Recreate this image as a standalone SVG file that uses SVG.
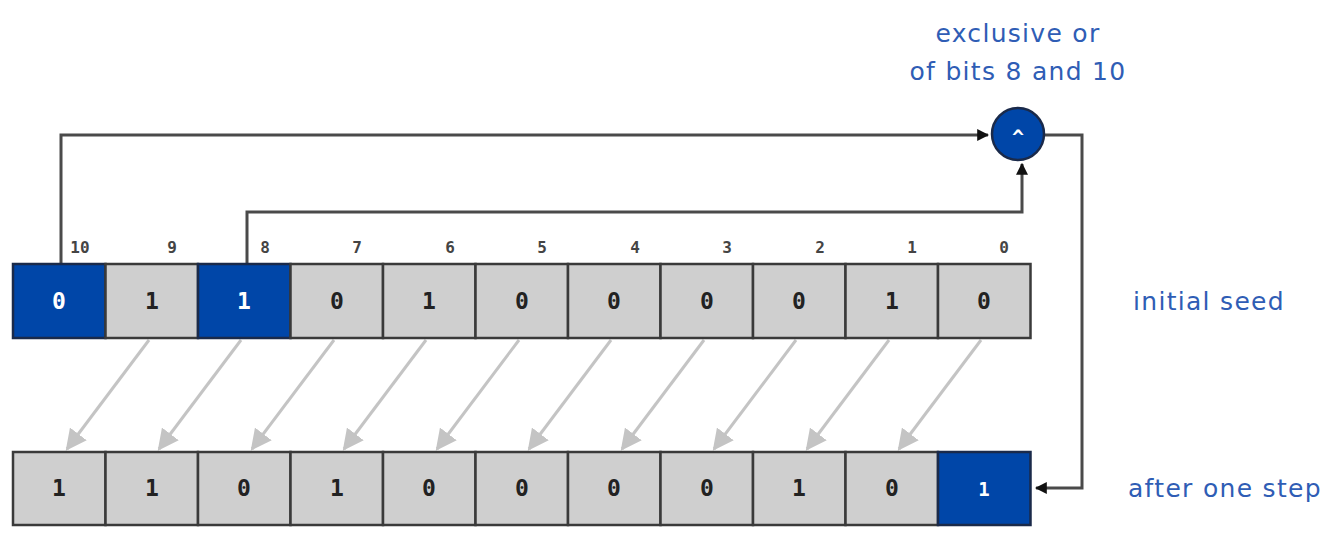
<svg xmlns="http://www.w3.org/2000/svg" width="1333" height="533" viewBox="0 0 1333 533">
<style>
.cell{fill:#cfcfcf;stroke:#3a3a3a;stroke-width:2.5}
.blue{fill:#0046a8;stroke:#1a2a4a;stroke-width:2.5}
.val{font-family:"DejaVu Sans Mono","Liberation Mono",monospace;font-weight:bold;font-size:23px;text-anchor:middle;fill:#222}
.valw{font-family:"DejaVu Sans Mono","Liberation Mono",monospace;font-weight:bold;font-size:23px;text-anchor:middle;fill:#fff}
.idx{font-family:"DejaVu Sans Mono","Liberation Mono",monospace;font-weight:bold;font-size:16px;text-anchor:middle;fill:#444}
.lbl{font-family:"DejaVu Sans","Open Sans",sans-serif;font-size:25px;letter-spacing:1.3px;fill:#2f5db5}
.wire{fill:none;stroke:#4a4a4a;stroke-width:3}
.shift{stroke:#c4c4c4;stroke-width:3}
</style>
<defs>
<marker id="ah" viewBox="0 0 10 10" refX="9" refY="5" markerWidth="4" markerHeight="4" orient="auto" markerUnits="strokeWidth">
<path d="M0,0 L10,5 L0,10 z" fill="#111"/>
</marker>
<marker id="gh" viewBox="0 0 10 10" refX="9" refY="5" markerWidth="7" markerHeight="7" orient="auto" markerUnits="strokeWidth">
<path d="M0,0 L10,5 L0,10 z" fill="#c4c4c4"/>
</marker>
</defs>
<g id="connectors">
<path class="wire" d="M61,264 V135 H988" marker-end="url(#ah)"/>
<path class="wire" d="M247,264 V212 H1022 V164" marker-end="url(#ah)"/>
<path class="wire" d="M1045,135 H1082 V488 H1036" marker-end="url(#ah)"/>
<g class="shift">
<line x1="149" y1="340" x2="67" y2="449" marker-end="url(#gh)"/>
<line x1="241" y1="340" x2="159" y2="449" marker-end="url(#gh)"/>
<line x1="334" y1="340" x2="252" y2="449" marker-end="url(#gh)"/>
<line x1="426" y1="340" x2="344" y2="449" marker-end="url(#gh)"/>
<line x1="519" y1="340" x2="437" y2="449" marker-end="url(#gh)"/>
<line x1="611" y1="340" x2="529" y2="449" marker-end="url(#gh)"/>
<line x1="704" y1="340" x2="622" y2="449" marker-end="url(#gh)"/>
<line x1="796" y1="340" x2="714" y2="449" marker-end="url(#gh)"/>
<line x1="889" y1="340" x2="807" y2="449" marker-end="url(#gh)"/>
<line x1="981" y1="340" x2="899" y2="449" marker-end="url(#gh)"/>
</g>
</g>
<g id="xor">
<circle cx="1018" cy="134" r="26" fill="#0046a8" stroke="#1a2a4a" stroke-width="2.5"/>
<text x="1018" y="144" class="valw" style="font-size:20px">^</text>
<text x="1018" y="42" class="lbl" text-anchor="middle">exclusive or</text>
<text x="1018" y="80" class="lbl" text-anchor="middle">of bits 8 and 10</text>
</g>
<g id="seed">
<rect class="blue" x="13" y="264" width="92.5" height="74"/>
<rect class="cell" x="105.5" y="264" width="92.5" height="74"/>
<rect class="blue" x="198" y="264" width="92.5" height="74"/>
<rect class="cell" x="290.5" y="264" width="92.5" height="74"/>
<rect class="cell" x="383" y="264" width="92.5" height="74"/>
<rect class="cell" x="475.5" y="264" width="92.5" height="74"/>
<rect class="cell" x="568" y="264" width="92.5" height="74"/>
<rect class="cell" x="660.5" y="264" width="92.5" height="74"/>
<rect class="cell" x="753" y="264" width="92.5" height="74"/>
<rect class="cell" x="845.5" y="264" width="92.5" height="74"/>
<rect class="cell" x="938" y="264" width="92.5" height="74"/>
<text class="valw" x="59" y="309">0</text>
<text class="val" x="152" y="309">1</text>
<text class="valw" x="244" y="309">1</text>
<text class="val" x="337" y="309">0</text>
<text class="val" x="429" y="309">1</text>
<text class="val" x="522" y="309">0</text>
<text class="val" x="614" y="309">0</text>
<text class="val" x="707" y="309">0</text>
<text class="val" x="799" y="309">0</text>
<text class="val" x="892" y="309">1</text>
<text class="val" x="984" y="309">0</text>
<text class="idx" x="80" y="253">10</text>
<text class="idx" x="172" y="253">9</text>
<text class="idx" x="265" y="253">8</text>
<text class="idx" x="357" y="253">7</text>
<text class="idx" x="450" y="253">6</text>
<text class="idx" x="542" y="253">5</text>
<text class="idx" x="635" y="253">4</text>
<text class="idx" x="727" y="253">3</text>
<text class="idx" x="820" y="253">2</text>
<text class="idx" x="912" y="253">1</text>
<text class="idx" x="1004" y="253">0</text>
<text class="lbl" x="1133" y="310">initial seed</text>
</g>
<g id="step">
<rect class="cell" x="13" y="452" width="92.5" height="73"/>
<rect class="cell" x="105.5" y="452" width="92.5" height="73"/>
<rect class="cell" x="198" y="452" width="92.5" height="73"/>
<rect class="cell" x="290.5" y="452" width="92.5" height="73"/>
<rect class="cell" x="383" y="452" width="92.5" height="73"/>
<rect class="cell" x="475.5" y="452" width="92.5" height="73"/>
<rect class="cell" x="568" y="452" width="92.5" height="73"/>
<rect class="cell" x="660.5" y="452" width="92.5" height="73"/>
<rect class="cell" x="753" y="452" width="92.5" height="73"/>
<rect class="cell" x="845.5" y="452" width="92.5" height="73"/>
<rect class="blue" x="938" y="452" width="92.5" height="73"/>
<text class="val" x="59" y="496">1</text>
<text class="val" x="152" y="496">1</text>
<text class="val" x="244" y="496">0</text>
<text class="val" x="337" y="496">1</text>
<text class="val" x="429" y="496">0</text>
<text class="val" x="522" y="496">0</text>
<text class="val" x="614" y="496">0</text>
<text class="val" x="707" y="496">0</text>
<text class="val" x="799" y="496">1</text>
<text class="val" x="892" y="496">0</text>
<text class="valw" x="984" y="496" style="font-size:19px">1</text>
<text class="lbl" x="1128" y="497">after one step</text>
</g>
</svg>
